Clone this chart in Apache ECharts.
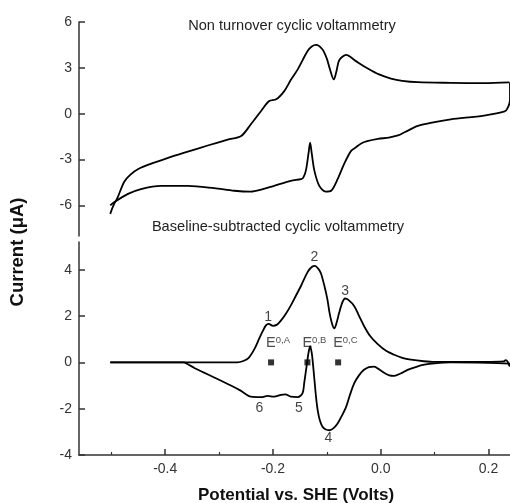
<!DOCTYPE html>
<html>
<head>
<meta charset="utf-8">
<script src="https://cdn.jsdelivr.net/npm/echarts@6/dist/echarts.min.js"></script>
<style>
html,body{margin:0;padding:0;background:#fff;}
#main{width:510px;height:503px;}
</style>
</head>
<body>
<div id="main"></div>
<script>
// ---- data (potential V vs SHE, current µA) ----
var rawForward = [[-0.502,-6.55],[-0.496,-6.0],[-0.488,-5.45],[-0.476,-4.45],[-0.465,-4.0],[-0.45,-3.62],[-0.427,-3.28],[-0.396,-2.9],[-0.358,-2.48],[-0.321,-2.08],[-0.284,-1.7],[-0.259,-1.46],[-0.241,-0.69],[-0.222,0.18],[-0.207,0.83],[-0.194,0.94],[-0.179,1.48],[-0.167,2.2],[-0.154,2.9],[-0.136,4.09],[-0.128,4.4],[-0.12,4.5],[-0.108,4.2],[-0.1,3.6],[-0.095,3.0],[-0.087,2.24],[-0.082,2.8],[-0.077,3.5],[-0.064,3.85],[-0.046,3.44],[-0.024,2.96],[-0.003,2.57],[0.019,2.3],[0.04,2.15],[0.069,2.06],[0.13,2.02],[0.192,2.0],[0.239,2.05]];
var rawReverse = [[0.240,2.05],[0.240,0.9],[0.236,0.4],[0.23,0.15],[0.192,-0.12],[0.13,-0.37],[0.1,-0.55],[0.069,-0.8],[0.045,-1.2],[0.032,-1.42],[0.015,-1.56],[-0.005,-1.65],[-0.025,-1.8],[-0.037,-1.96],[-0.046,-2.2],[-0.055,-2.43],[-0.068,-3.3],[-0.08,-4.28],[-0.092,-5.04],[-0.102,-5.1],[-0.114,-4.72],[-0.123,-3.74],[-0.128,-2.6],[-0.131,-1.9],[-0.134,-2.6],[-0.139,-3.74],[-0.144,-4.2],[-0.148,-4.28],[-0.167,-4.39],[-0.198,-4.72],[-0.22,-4.95],[-0.241,-5.1],[-0.272,-5.04],[-0.309,-4.87],[-0.358,-4.72],[-0.408,-4.72],[-0.445,-4.93],[-0.47,-5.26],[-0.495,-5.8],[-0.502,-6.0]];
var subForward = [[-0.502,0],[-0.4,0],[-0.3,0],[-0.266,0.0],[-0.255,0.06],[-0.245,0.2],[-0.235,0.55],[-0.226,1.0],[-0.219,1.35],[-0.213,1.6],[-0.208,1.66],[-0.2,1.58],[-0.193,1.62],[-0.186,1.78],[-0.176,2.1],[-0.167,2.45],[-0.157,2.9],[-0.148,3.3],[-0.136,3.89],[-0.128,4.12],[-0.122,4.17],[-0.116,4.05],[-0.111,3.85],[-0.105,3.35],[-0.099,2.73],[-0.095,2.15],[-0.09,1.65],[-0.086,1.47],[-0.082,1.7],[-0.077,2.15],[-0.071,2.6],[-0.066,2.76],[-0.06,2.7],[-0.049,2.43],[-0.04,2.0],[-0.031,1.57],[-0.02,1.15],[-0.006,0.8],[0.01,0.5],[0.025,0.33],[0.04,0.2],[0.056,0.12],[0.08,0.05],[0.1,0.02],[0.15,0.02],[0.192,0.02],[0.228,0.04],[0.232,0.1],[0.236,0.02],[0.239,-0.15],[0.24,-0.05]];
var subReverse = [[0.24,-0.05],[0.2,-0.02],[0.13,0],[0.1,-0.04],[0.081,-0.1],[0.065,-0.2],[0.05,-0.32],[0.037,-0.48],[0.025,-0.58],[0.016,-0.56],[0.007,-0.46],[-0.003,-0.3],[-0.012,-0.18],[-0.022,-0.2],[-0.031,-0.32],[-0.04,-0.55],[-0.049,-0.9],[-0.057,-1.4],[-0.064,-1.91],[-0.072,-2.3],[-0.08,-2.64],[-0.088,-2.85],[-0.095,-2.93],[-0.102,-2.9],[-0.108,-2.78],[-0.113,-2.5],[-0.117,-2.06],[-0.12,-1.5],[-0.123,-0.75],[-0.126,0.0],[-0.128,0.41],[-0.131,0.7],[-0.134,0.41],[-0.136,0.1],[-0.139,-0.4],[-0.142,-0.9],[-0.145,-1.33],[-0.154,-1.5],[-0.167,-1.48],[-0.177,-1.38],[-0.185,-1.40],[-0.198,-1.48],[-0.210,-1.45],[-0.222,-1.50],[-0.241,-1.48],[-0.26,-1.22],[-0.278,-1.0],[-0.309,-0.65],[-0.33,-0.42],[-0.346,-0.24],[-0.358,-0.08],[-0.366,0],[-0.4,0],[-0.502,0]];
var e0Names = ['A','B','C'];
var e0Values = [-0.2035,-0.136,-0.079];
var peakNames = ['1','2','3','4','5','6'];
var peakX = [-0.209,-0.123,-0.066,-0.097,-0.152,-0.225];
var peakY = [1.97,4.54,3.09,-3.29,-1.98,-1.98];
var xTicks = [-0.4,-0.2,0.0,0.2];
var xMinorTicks = [-0.5,-0.3,-0.1,0.1];
var yTicksTop = [-6,-3,0,3,6];
var yTicksBottom = [-4,-2,0,2,4];

var FONT = '"Liberation Sans", Arial, sans-serif';
var chart = echarts.init(document.getElementById('main'), null, {renderer:'canvas'});
var X_MIN = -0.56, X_MAX = 0.24;
var axisCol = '#333';

function yAxisCfg(grid, min, max, ticks){
  return {
    type:'value', gridIndex:grid, min:min, max:max, position:'left',
    axisLine:{show:true, onZero:false, lineStyle:{color:axisCol, width:1.5}},
    axisTick:{show:true, inside:true, length:6, customValues:ticks, lineStyle:{color:axisCol, width:1.5}},
    axisLabel:{show:true, customValues:ticks, margin:7, color:'#333', fontFamily:FONT, fontSize:14,
      formatter:function(v){return String(v);}},
    splitLine:{show:false}
  };
}

var option = {
  animation:false,
  backgroundColor:'#fff',
  grid:[
    {left:79, top:22, right:0, height:214},
    {left:79, top:242, right:0, height:213}
  ],
  xAxis:[
    {type:'value', gridIndex:0, min:X_MIN, max:X_MAX, show:false},
    {type:'value', gridIndex:1, min:X_MIN, max:X_MAX, position:'bottom',
      axisLine:{show:true, onZero:false, lineStyle:{color:axisCol, width:1.5}},
      axisTick:{show:true, inside:true, length:6, customValues:xTicks, lineStyle:{color:axisCol, width:1.5}},
      axisLabel:{show:true, customValues:xTicks, margin:7, color:'#333', fontFamily:FONT, fontSize:14,
        formatter:function(v){return v.toFixed(1);}},
      splitLine:{show:false}},
    {type:'value', gridIndex:1, min:X_MIN, max:X_MAX, position:'bottom',
      axisLine:{show:false, onZero:false},
      axisTick:{show:true, inside:true, length:3, customValues:xMinorTicks, lineStyle:{color:axisCol, width:1.2}},
      axisLabel:{show:false}, splitLine:{show:false}}
  ],
  yAxis:[
    yAxisCfg(0, -8, 6, yTicksTop),
    yAxisCfg(1, -4, 5.2, yTicksBottom)
  ],
  series:[
    {type:'line', xAxisIndex:0, yAxisIndex:0, data:rawForward, showSymbol:false, symbol:'none', smooth:0.3,
      lineStyle:{color:'#000', width:1.8}},
    {type:'line', xAxisIndex:0, yAxisIndex:0, data:rawReverse, showSymbol:false, symbol:'none', smooth:0.3,
      lineStyle:{color:'#000', width:1.8}},
    {type:'line', xAxisIndex:1, yAxisIndex:1, data:subForward, showSymbol:false, symbol:'none', smooth:0.3,
      lineStyle:{color:'#000', width:1.8}},
    {type:'line', xAxisIndex:1, yAxisIndex:1, data:subReverse, showSymbol:false, symbol:'none', smooth:0.3,
      lineStyle:{color:'#000', width:1.8}},
    {type:'scatter', xAxisIndex:1, yAxisIndex:1, symbol:'rect', symbolSize:6,
      itemStyle:{color:'#000'},
      data:e0Values.map(function(v,i){return {value:[v,0], name:e0Names[i]};}),
      label:{show:true, position:'top', align:'left', offset:[-5,-3],
        formatter:function(p){return '{e|E}{s|0,' + p.name + '}';},
        rich:{e:{fontFamily:FONT, fontSize:14.5, color:'#222', lineHeight:16},
              s:{fontFamily:FONT, fontSize:9.5, color:'#222', verticalAlign:'top', lineHeight:16}}}},
    {type:'scatter', xAxisIndex:1, yAxisIndex:1, symbol:'circle', symbolSize:1,
      itemStyle:{color:'rgba(0,0,0,0)'},
      data:peakNames.map(function(n,i){return {value:[peakX[i],peakY[i]], name:n};}),
      label:{show:true, position:'inside', formatter:'{b}', fontFamily:FONT, fontSize:14, color:'#111'}}
  ],
  graphic:[
    {type:'text', x:292, y:26, style:{text:'Non turnover cyclic voltammetry', font:'14.6px ' + FONT, fill:'#222', textAlign:'center', textVerticalAlign:'middle'}},
    {type:'text', x:278, y:227, style:{text:'Baseline-subtracted cyclic voltammetry', font:'14.6px ' + FONT, fill:'#222', textAlign:'center', textVerticalAlign:'middle'}},
    {type:'text', x:18, y:252, rotation:Math.PI/2, style:{text:'Current (\u03bcA)', font:'bold 18.5px ' + FONT, fill:'#111', textAlign:'center', textVerticalAlign:'middle'}},
    {type:'text', x:296, y:495, style:{text:'Potential vs. SHE (Volts)', font:'bold 17px ' + FONT, fill:'#111', textAlign:'center', textVerticalAlign:'middle'}}
  ]
};
chart.setOption(option);
</script>
</body>
</html>
